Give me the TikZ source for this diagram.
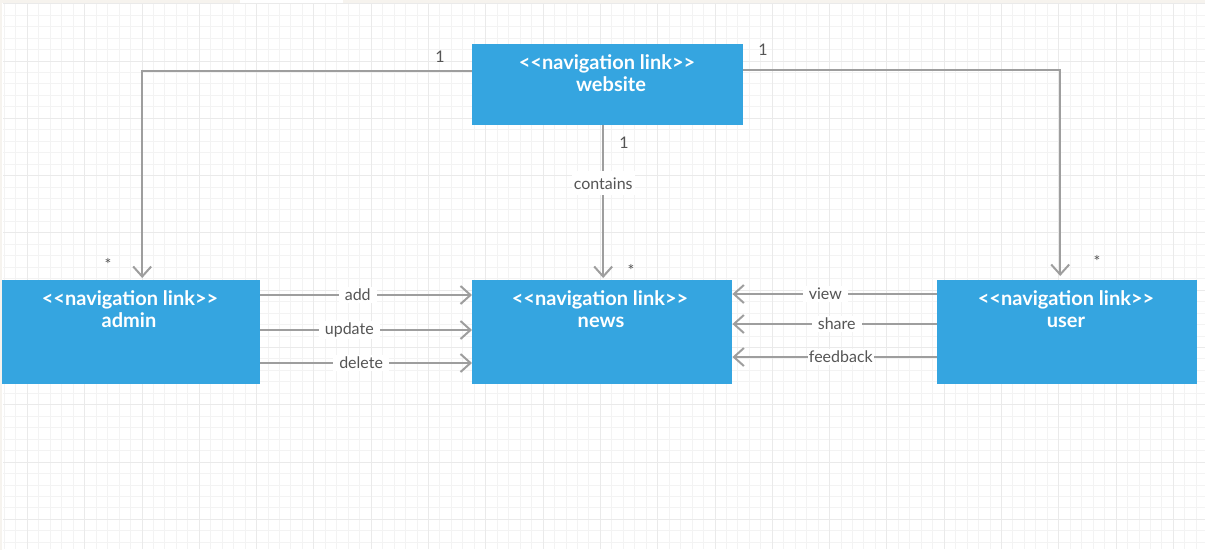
\documentclass[tikz,border=0pt]{standalone}
\usepackage{fontspec}
\setmainfont{Lato}
\usetikzlibrary{arrows.meta}
\definecolor{boxblue}{RGB}{53,165,224}
\definecolor{linegray}{RGB}{158,158,158}
\definecolor{txtgray}{RGB}{85,85,85}
\definecolor{gridminor}{RGB}{243,243,243}
\definecolor{gridmajor}{RGB}{234,234,234}
\definecolor{edgebeige}{RGB}{246,243,238}
\newcommand{\stereo}{<\kern0pt<navigation link>\kern0pt>}
\tikzset{
  navbox/.style={fill=boxblue, draw=none, minimum width=#1, minimum height=104pt, anchor=north west, inner sep=0pt},
  navtext/.style={text=white, font=\bfseries\fontsize{20}{22}\selectfont, anchor=base, inner sep=0pt},
  conn/.style={draw=linegray, line width=2pt},
  arr/.style={conn, -{Straight Barb[length=10pt,width=18pt]}},
  lbl/.style={fill=white, text=txtgray, font=\fontsize{16}{18}\selectfont, inner xsep=6pt, inner ysep=2pt},
  mult/.style={text=txtgray, font=\fontsize{16}{18}\selectfont, inner sep=0pt},
}
\begin{document}
\begin{tikzpicture}[x=1pt,y=-1pt]
\useasboundingbox (0,0) rectangle (1205,550);
\fill[white] (0,0) rectangle (1205,550);
% grid
\foreach \i in {0,...,105} {
  \draw[gridminor, line width=0.8pt] ({4.38+11.46*\i},3) -- ({4.38+11.46*\i},549);
}
\foreach \i in {0,...,47} {
  \draw[gridminor, line width=0.8pt] (3,{3.6+11.46*\i}) -- (1205,{3.6+11.46*\i});
}
\foreach \i in {0,...,20} {
  \draw[gridmajor, line width=0.8pt] ({27.3+57.3*\i},3) -- ({27.3+57.3*\i},549);
}
\foreach \i in {0,...,9} {
  \draw[gridmajor, line width=0.8pt] (3,{3.6+57.3*\i}) -- (1205,{3.6+57.3*\i});
}
\fill[edgebeige] (0,0) rectangle (240,3);
\fill[edgebeige] (343,0) rectangle (1205,3);
\fill[edgebeige] (0,0) rectangle (2,550);

% boxes
\node[navbox=271pt, minimum height=81pt] (website) at (472,44) {};
\node[navbox=258pt] (admin) at (2,280) {};
\node[navbox=260pt] (news) at (472,280) {};
\node[navbox=260pt] (user) at (937,280) {};

\node[navtext] (websitest) at (607,69) {\stereo};
\node[navtext] (websitenm) at (611,91) {website};
\node[navtext] (adminst) at (130,305) {\stereo};
\node[navtext] (adminnm) at (129,327) {admin};
\node[navtext] (newsst) at (600,305) {\stereo};
\node[navtext] (newsnm) at (601,327) {news};
\node[navtext] (userst) at (1066,305) {\stereo};
\node[navtext] (usernm) at (1066,327) {user};

% website to admin / user
\draw[arr] ([yshift=-27pt]website.north west) -| ([xshift=11pt,yshift=2pt]admin.north);
\draw[arr] ([yshift=-26pt]website.north east) -| ([xshift=-7pt,yshift=4pt]user.north);
\draw[arr] ([xshift=-4.5pt]website.south) -- ([xshift=1pt,yshift=2pt]news.north)
  node[lbl, pos=0.38, inner xsep=2pt, inner ysep=6pt] (containslbl) {contains};

% admin to news
\draw[arr] ([yshift=-15pt]admin.north east) -- ([yshift=-15pt]news.north west)
  node[lbl, pos=0.46] (addlbl) {add};
\draw[arr] ([yshift=-50pt]admin.north east) -- ([yshift=-50pt]news.north west)
  node[lbl, pos=0.42] (updatelbl) {update};
\draw[arr] ([yshift=-83pt]admin.north east) -- ([yshift=-83pt]news.north west)
  node[lbl, pos=0.476] (deletelbl) {delete};

% user to news
\draw[arr] ([yshift=-14pt]user.north west) -- ([yshift=-14pt]news.north east)
  node[lbl, pos=0.546] (viewlbl) {view};
\draw[arr] ([yshift=-44pt]user.north west) -- ([yshift=-44pt]news.north east)
  node[lbl, pos=0.49] (sharelbl) {share};
\draw[arr] ([yshift=-77pt]user.north west) -- ([yshift=-77pt]news.north east)
  node[lbl, pos=0.47, inner xsep=1pt] (feedbacklbl) {feedback};

% multiplicities
\node[mult] (m1) at (440,57) {1};
\node[mult] (m2) at (108,264) {*};
\node[mult] (m3) at (763,50) {1};
\node[mult] (m4) at (1097,261) {*};
\node[mult] (m5) at (624,143) {1};
\node[mult] (m6) at (631,270) {*};
\end{tikzpicture}
\end{document}
